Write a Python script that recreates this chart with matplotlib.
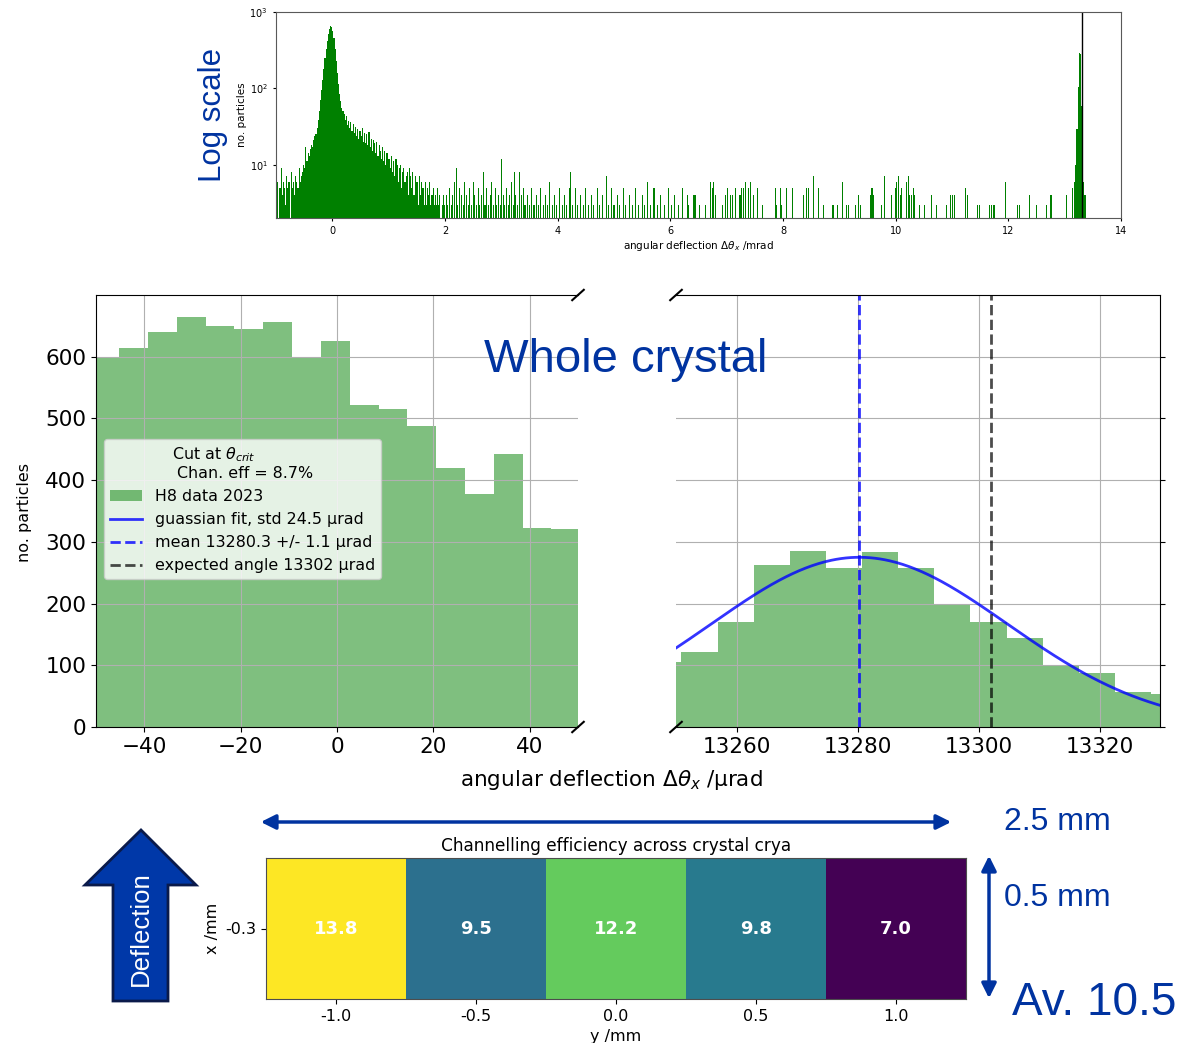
import numpy as np
import matplotlib
matplotlib.use('Agg')
import matplotlib.pyplot as plt
from matplotlib.patches import Polygon, FancyArrowPatch
from matplotlib.ticker import NullLocator

navy = '#0033a0'
sans = 'Liberation Sans'

# ---- top: full deflection spectrum (log scale) ----
core_start, core_bw = -1.0, 0.02
core_counts = [5, 6, 2, 5, 9, 4, 6, 5, 3, 7, 5, 6, 2, 8, 5, 6, 4, 7, 6, 5, 9, 6, 7, 8, 10,
               9, 17, 11, 14, 13, 16, 18, 17, 21, 24,
               25, 30, 38, 50, 70,
               95, 130, 180, 250, 330, 420, 520, 600, 650, 640,
               560, 450, 330, 230, 160, 115, 85, 68, 56, 50,
               46, 38, 44, 33, 37, 30, 36, 28, 34, 26, 31, 24, 29, 22, 28,
               24, 30, 20, 26, 19, 25, 18, 27, 17, 22, 15, 21, 19, 14, 20, 13, 18, 15, 12, 17, 11, 15, 10, 14, 12,
               12, 9, 13, 8, 11, 7, 12, 10, 6, 9, 10, 5, 8, 9, 6, 7, 8, 4, 9, 7, 5, 8, 4, 7, 6,
               6, 3, 7, 4, 6, 5, 3, 6, 3, 5, 4, 6, 3, 4, 5, 3, 4, 3, 5, 3, 4, 2, 3, 4, 3]

tail_x = [2.02, 2.05, 2.08, 2.11, 2.14, 2.17, 2.20, 2.23, 2.26, 2.29, 2.32, 2.35, 2.38, 2.41, 2.44,
          2.47, 2.50, 2.53, 2.56, 2.59, 2.62, 2.65, 2.68, 2.71, 2.74, 2.77, 2.80, 2.83, 2.86, 2.89,
          2.92, 2.95, 2.98, 3.00, 3.03, 3.06, 3.09, 3.12, 3.15, 3.18, 3.21, 3.23, 3.26, 3.29, 3.33,
          3.36, 3.39, 3.42, 3.46, 3.50, 3.54, 3.58, 3.62, 3.66, 3.70, 3.74, 3.78, 3.82, 3.86, 3.90,
          3.94, 3.98, 4.03, 4.08, 4.12, 4.16, 4.21, 4.23, 4.27, 4.32, 4.36, 4.41, 4.46, 4.50, 4.55,
          4.60, 4.64, 4.70, 4.74, 4.80, 4.86, 4.90, 4.95, 5.00, 5.06, 5.10, 5.16, 5.21, 5.27, 5.33,
          5.38, 5.44, 5.50, 5.55, 5.59, 5.65, 5.71, 5.77, 5.83, 5.90, 5.96, 6.02, 6.08, 6.14,
          6.21, 6.30, 6.33, 6.42, 6.45, 6.51, 6.63, 6.71, 6.74, 6.77, 6.80, 6.92, 6.98, 7.01, 7.07,
          7.10, 7.16, 7.22, 7.24, 7.27, 7.30, 7.33, 7.39, 7.42, 7.48, 7.54, 7.63, 7.86, 7.89, 7.95,
          7.98, 8.07, 8.16, 8.37, 8.42, 8.45, 8.54, 8.63, 8.72, 8.87, 8.90, 8.96, 9.06, 9.13, 9.16,
          9.28, 9.34, 9.37, 9.55, 9.58, 9.60, 9.75, 9.80, 9.81, 9.93, 9.99, 10.02, 10.05, 10.08, 10.11,
          10.19, 10.22, 10.25, 10.28, 10.31, 10.34, 10.43, 10.52, 10.64, 10.73, 10.90, 10.98, 11.01, 11.04,
          11.24, 11.27, 11.46, 11.48, 11.66, 11.70, 11.73, 11.76, 11.95, 12.16, 12.19, 12.37, 12.50,
          12.67, 12.74, 12.77, 13.04, 13.14]
tail_n = [4, 3, 5, 3, 4, 6, 9, 3, 5, 4, 3, 6, 4, 3, 5,
          3, 6, 4, 3, 5, 3, 4, 8, 3, 5, 3, 4, 6, 3, 5,
          3, 4, 3, 12, 4, 3, 5, 3, 4, 6, 3, 8, 4, 3, 8,
          4, 5, 3, 4, 3, 5, 3, 4, 3, 5, 3, 4, 3, 6, 3,
          4, 3, 5, 3, 4, 3, 5, 8, 3, 5, 3, 4, 3, 5, 3,
          4, 3, 5, 3, 4, 7, 3, 5, 3, 4, 3, 5, 3, 4, 3,
          5, 3, 4, 3, 6, 3, 5, 3, 4, 3, 5, 3, 4, 3,
          5, 4, 3, 4, 4, 3, 3, 6, 5, 6, 4, 3, 4, 5, 4,
          4, 5, 4, 4, 5, 5, 6, 5, 6, 4, 5, 3, 5, 3, 5,
          3, 5, 5, 4, 5, 5, 7, 5, 3, 3, 3, 3, 6, 3, 3,
          3, 4, 3, 4, 5, 4, 3, 7, 3, 4, 5, 6, 7, 4, 5,
          6, 7, 4, 4, 5, 4, 3, 3, 4, 3, 3, 4, 4, 4,
          5, 4, 3, 3, 3, 3, 3, 3, 6, 3, 3, 4, 3,
          3, 4, 4, 4, 5]

peak_x = [13.18, 13.20, 13.22, 13.24, 13.26, 13.28, 13.30, 13.32, 13.34, 13.36]
peak_n = [6, 10, 29, 105, 290, 280, 58, 19, 6, 4]

# ---- middle: zoom on the two peaks ----
bin_w = 5.98
left_edge0 = -51.18
left_counts = [600, 614, 640, 665, 650, 645, 657, 600, 626, 521, 516, 488, 419, 378, 442, 323, 321]
right_edge0 = 13244.93
right_counts = [106, 121, 170, 262, 285, 257, 283, 257, 200, 170, 144, 101, 87, 57, 54]
fit_mean, fit_std, fit_amp = 13280.3, 24.5, 275
expected_angle = 13302

# ---- bottom: efficiency per position ----
eff_values = [13.8, 9.5, 12.2, 9.8, 7.0]
y_pos = [-1.0, -0.5, 0.0, 0.5, 1.0]
y_labels = ['-1.0', '-0.5', '0.0', '0.5', '1.0']

W, H = 1182, 1043
fig = plt.figure(figsize=(W / 100, H / 100), dpi=100)


def box(x0, y0, x1, y1):
    return [x0 / W, 1 - y1 / H, (x1 - x0) / W, (y1 - y0) / H]


# top log histogram
ax0 = fig.add_axes(box(276, 12, 1121, 218))
core_x = core_start + core_bw * (np.arange(len(core_counts)) + 0.5)
ax0.bar(core_x, core_counts, width=core_bw, color='green', linewidth=0)
ax0.bar(tail_x, tail_n, width=0.018, color='green', linewidth=0)
ax0.bar(peak_x, peak_n, width=0.02, color='green', linewidth=0)
ax0.axvline(13.302, color='k', lw=1)
ax0.set_yscale('log')
ax0.set_ylim(2, 1000)
ax0.set_xlim(-1, 14)
ax0.yaxis.set_minor_locator(NullLocator())
ax0.tick_params(labelsize=7, length=2.5)
ax0.set_xlabel(r'angular deflection $\Delta\theta_x$ /mrad', fontsize=7.5, labelpad=2)
ax0.set_ylabel('no. particles', fontsize=7.5, labelpad=2)
for s in ax0.spines.values():
    s.set_color('0.35')
    s.set_linewidth(0.8)

# middle broken axis
ax1 = fig.add_axes(box(96, 295, 578, 727))
ax2 = fig.add_axes(box(676, 295, 1160, 727))
left_edges = left_edge0 + bin_w * np.arange(len(left_counts) + 1)
right_edges = right_edge0 + 5.97 * np.arange(len(right_counts) + 1)
hist_patch = ax1.stairs(left_counts, left_edges, fill=True, color='g', alpha=0.5,
                        label='H8 data 2023')
ax2.stairs(right_counts, right_edges, fill=True, color='g', alpha=0.5)
xf = np.linspace(13250, 13330, 300)
fit_line, = ax2.plot(xf, fit_amp * np.exp(-(xf - fit_mean) ** 2 / (2 * fit_std ** 2)),
                     color='b', lw=2, alpha=0.8, label='guassian fit, std 24.5 µrad')
mean_line = ax2.axvline(fit_mean, color='b', ls='--', lw=2, alpha=0.8,
                        label='mean 13280.3 +/- 1.1 µrad')
exp_line = ax2.axvline(expected_angle, color='k', ls='--', lw=2, alpha=0.7,
                       label='expected angle 13302 µrad')

ax1.set_xlim(-50, 50)
ax2.set_xlim(13250, 13330)
for a in (ax1, ax2):
    a.set_ylim(0, 700)
    a.set_yticks([0, 100, 200, 300, 400, 500, 600])
    a.grid(True)
    a.tick_params(labelsize=15.5)
ax1.spines['right'].set_visible(False)
ax2.spines['left'].set_visible(False)
ax1.yaxis.tick_left()
ax2.yaxis.tick_right()
ax2.tick_params(labelright=False)
ax1.set_xticks([-40, -20, 0, 20, 40])
ax2.set_xticks([13260, 13280, 13300, 13320])

d = 0.012
kw = dict(color='k', clip_on=False, lw=1.5)
ax1.plot((1 - d, 1 + d), (-d, d), transform=ax1.transAxes, **kw)
ax1.plot((1 - d, 1 + d), (1 - d, 1 + d), transform=ax1.transAxes, **kw)
ax2.plot((-d, d), (-d, d), transform=ax2.transAxes, **kw)
ax2.plot((-d, d), (1 - d, 1 + d), transform=ax2.transAxes, **kw)

ax1.legend(handles=[hist_patch, fit_line, mean_line, exp_line],
           title='Cut at $\\theta_{crit}$\n Chan. eff = 8.7%',
           loc='upper left', bbox_to_anchor=(0.0, 0.685), fontsize=11.4,
           title_fontsize=11.4)

fig.text(25 / W, 1 - 512 / H, 'no. particles', rotation=90, fontsize=11.5,
         ha='center', va='center')
fig.text(611 / W, 1 - 780 / H, r'angular deflection $\Delta\theta_x$ /µrad',
         fontsize=15.5, ha='center', va='center')

# bottom heatmap
ax3 = fig.add_axes(box(266, 858, 966, 999))
ax3.imshow(np.array([eff_values]), cmap='viridis', aspect='auto',
           extent=(-1.25, 1.25, -0.55, -0.05))
for xp, v in zip(y_pos, eff_values):
    ax3.text(xp, -0.3, f'{v:.1f}', color='w', fontweight='bold', fontsize=13,
             ha='center', va='center')
ax3.set_xticks(y_pos)
ax3.set_xticklabels(y_labels)
ax3.set_yticks([-0.3])
ax3.set_yticklabels(['-0.3'])
ax3.tick_params(labelsize=11.5)
ax3.set_xlabel('y /mm', fontsize=11.5, labelpad=4)
ax3.set_ylabel('x /mm', fontsize=11.5)
ax3.set_title('Channelling efficiency across crystal crya', fontsize=12.2, pad=5)
for s in ax3.spines.values():
    s.set_color('0.3')

# overlay annotations in pixel coords
ov = fig.add_axes([0, 0, 1, 1])
ov.set_xlim(0, W)
ov.set_ylim(H, 0)
ov.axis('off')
ov.patch.set_alpha(0)

ov.text(213, 115, 'Log scale', rotation=90, fontsize=22.5, color=navy,
        family=sans, ha='center', va='center')
ov.text(484, 372, 'Whole crystal', fontsize=34, color=navy, family=sans,
        ha='left', va='baseline')

ov.add_patch(FancyArrowPatch((258, 822), (954, 822), arrowstyle='<|-|>',
                             mutation_scale=22, color=navy, lw=2.5))
ov.add_patch(FancyArrowPatch((989, 853), (989, 1001), arrowstyle='<|-|>',
                             mutation_scale=22, color=navy, lw=2.5))
ov.add_patch(Polygon([(85, 885), (141, 830), (196, 885), (168, 885), (168, 1001),
                      (113, 1001), (113, 885)], closed=True,
                     facecolor='#0038a8', edgecolor='#0a1a4a', lw=2))
ov.text(141, 929, 'Deflection', rotation=90, fontsize=18.5, color='w',
        family=sans, ha='center', va='center')
ov.text(1004, 822, '2.5 mm', fontsize=23, color=navy, family=sans,
        ha='left', va='center')
ov.text(1004, 898, '0.5 mm', fontsize=23, color=navy, family=sans,
        ha='left', va='center')
ov.text(1012, 1003, 'Av. 10.5', fontsize=33, color=navy, family=sans,
        ha='left', va='center')

fig.savefig('out.png', dpi=100)
